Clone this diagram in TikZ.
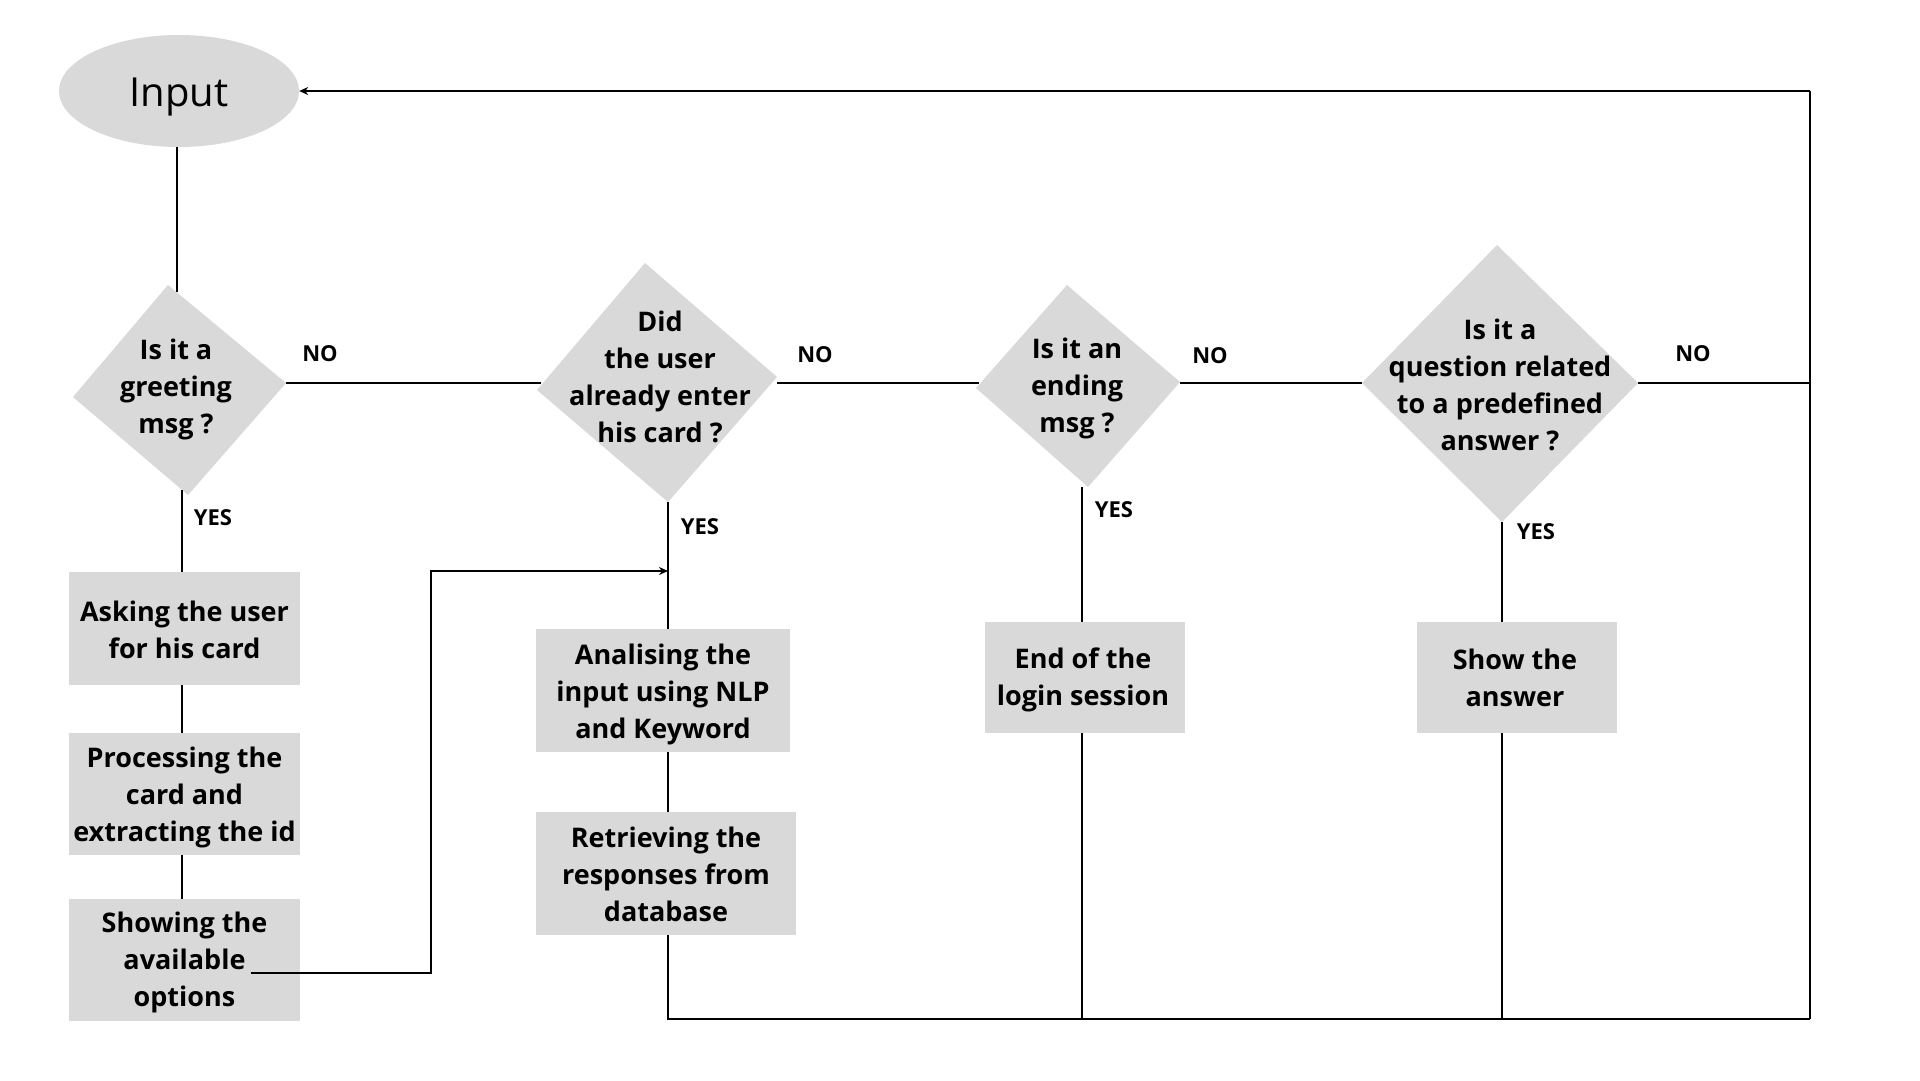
\documentclass[tikz,border=0pt]{standalone}
\usepackage{fontspec}
\setmainfont{Open Sans}
\usetikzlibrary{shapes.geometric,arrows.meta}
\definecolor{boxgray}{RGB}{217,217,217}
\begin{document}
\begin{tikzpicture}[x=1pt,y=-1pt,
  conn/.style={draw=black,line width=2pt},
  thick conn/.style={draw=black,line width=2.6pt},
  arr/.style={conn,-{Stealth[length=9pt,width=8pt]}},
  boxshape/.style={fill=boxgray,inner sep=0pt},
  btext/.style={inner sep=0pt,align=center,font=\fontsize{27}{37}\selectfont\bfseries},
  dtext/.style={inner sep=0pt,align=center,font=\fontsize{27}{37}\selectfont\bfseries},
  lbl/.style={inner sep=0pt,font=\fontsize{22}{26}\selectfont\bfseries},
  diafill/.style={fill=boxgray}]
\useasboundingbox (0,0) rectangle (1920,1080);
\fill[white] (0,0) rectangle (1920,1080);

% Input
\node[ellipse,fill=boxgray,minimum width=240pt,minimum height=112pt,inner sep=0pt] (in) at (179,91) {};
\node[inner sep=0pt,font=\fontsize{40}{48}\selectfont] (intext) at ([yshift=-6pt]in.center) {Input};

% diamond vertices
\coordinate (d1t) at (168,285); \coordinate (d1r) at (286,383);
\coordinate (d1b) at (188,495); \coordinate (d1l) at (73,397);
\coordinate (d2t) at (645,263); \coordinate (d2r) at (777,377);
\coordinate (d2b) at (668,502); \coordinate (d2l) at (537,390);
\coordinate (d3t) at (1067,285); \coordinate (d3r) at (1180,382);
\coordinate (d3b) at (1088,487); \coordinate (d3l) at (976,388);
\coordinate (d4t) at (1497,245); \coordinate (d4r) at (1638,383);
\coordinate (d4b) at (1502,522); \coordinate (d4l) at (1362,383);

\fill[diafill] (d1t) -- (d1r) -- (d1b) -- (d1l) -- cycle;
\fill[diafill] (d2t) -- (d2r) -- (d2b) -- (d2l) -- cycle;
\fill[diafill] (d3t) -- (d3r) -- (d3b) -- (d3l) -- cycle;
\fill[diafill] (d4t) -- (d4r) -- (d4b) -- (d4l) -- cycle;

\node[dtext] (d1) at (176,389) {Is it a\\greeting\\msg ?};
\node[dtext] (d2) at (660,377) {Did\\the user\\already enter\\his card ?};
\node[dtext] (d3) at (1077,388) {Is it an\\ending\\msg ?};
\node[dtext] (d4) at (1500,385) {Is it a\\question related\\to a predefined\\answer ?};

% boxes
\node[boxshape,minimum width=231pt,minimum height=113pt] (ask) at (184.5,628.5) {};
\node[boxshape,minimum width=231pt,minimum height=122pt] (proc) at (184.5,794) {};
\node[boxshape,minimum width=231pt,minimum height=122pt] (show) at (184.5,960) {};
\node[boxshape,minimum width=254pt,minimum height=123pt] (ana) at (663,690.5) {};
\node[boxshape,minimum width=260pt,minimum height=123pt] (ret) at (666,873.5) {};
\node[boxshape,minimum width=200pt,minimum height=111pt] (endb) at (1085,677.5) {};
\node[boxshape,minimum width=200pt,minimum height=111pt] (ans) at (1517,677.5) {};

\node[btext] (askt) at ([yshift=-1pt]ask.center) {Asking the user\\for his card};
\node[btext] (proct) at ([yshift=-3.5pt]proc.center) {Processing the\\card and\\extracting the id};
\node[btext] (showt) at ([yshift=-2.5pt]show.center) {Showing the\\available\\options};
\node[btext] (anat) at ([yshift=-3.5pt]ana.center) {Analising the\\input using NLP\\and Keyword};
\node[btext] (rett) at ([yshift=-0.5pt]ret.center) {Retrieving the\\responses from\\database};
\node[btext] (endt) at ([xshift=-2pt,yshift=-2.5pt]endb.center) {End of the\\login session};
\node[btext] (anst) at ([xshift=-2pt]ans.center) {Show the\\answer};

% labels
\node[lbl] (no1) at (320,354) {NO};
\node[lbl] (no2) at (815,355) {NO};
\node[lbl] (no3) at (1210,356) {NO};
\node[lbl] (no4) at (1693,354) {NO};
\node[lbl] (yes1) at (213,518) {YES};
\node[lbl] (yes2) at (700,527) {YES};
\node[lbl] (yes3) at (1114,510) {YES};
\node[lbl] (yes4) at (1536,532) {YES};

% helper coordinates
\coordinate (d1n) at (177,292);
\coordinate (d1s) at (182,490);
\coordinate (d1e) at (286,383);
\coordinate (d2w) at (541,383);
\coordinate (d2e) at (777,383);
\coordinate (d2s) at (668,502);
\coordinate (d3w) at (979,383);
\coordinate (d3e) at (1180,383);
\coordinate (d3s) at (1082,487);
\coordinate (d4w) at (1362,383);
\coordinate (d4e) at (1638,383);
\coordinate (d4s) at (1502,522);
\coordinate (rt) at (1810,383);
\coordinate (tr) at (1810,91);
\coordinate (br) at (1810,1019);
\coordinate (bl) at (668,1019);
\coordinate (sh1) at (251,973);
\coordinate (sh2) at (431,973);
\coordinate (sh3) at (431,571);
\coordinate (sh4) at (668,571);

% connectors
\draw[conn] (in.south -| d1n) -- (d1n);
\draw[conn] (d1s) -- (d1s |- ask.north);
\draw[conn] (d1s |- ask.south) -- (d1s |- proc.north);
\draw[conn] (d1s |- proc.south) -- (d1s |- show.north);
\draw[conn] (d1e) -- (d2w);
\draw[conn] (d2e) -- (d3w);
\draw[conn] (d3e) -- (d4w);
\draw[conn] (d4e) -- (rt);
\draw[conn] (d2s) -- (d2s |- ana.north);
\draw[conn] (d2s |- ana.south) -- (d2s |- ret.north);
\draw[conn] (d2s |- ret.south) -- (bl) -- (br);
\draw[conn] (d3s) -- (d3s |- endb.north);
\draw[conn] (d3s |- endb.south) -- (d3s |- br);
\draw[conn] (d4s) -- (d4s |- ans.north);
\draw[conn] (d4s |- ans.south) -- (d4s |- br);
\draw[thick conn] (br) -- (tr);
\draw[arr] (tr) -- (in.east);
\draw[arr] (sh1) -- (sh2) -- (sh3) -- (sh4);
\end{tikzpicture}
\end{document}
